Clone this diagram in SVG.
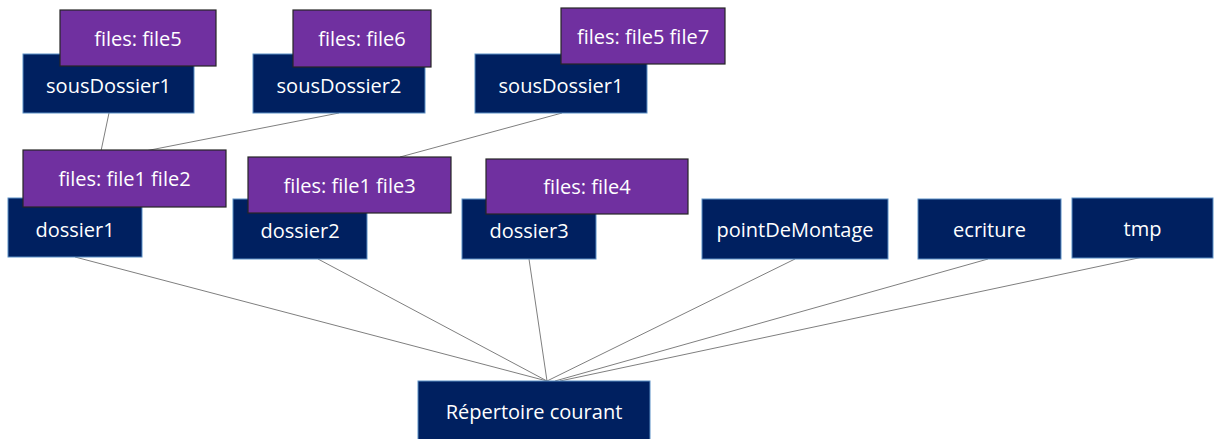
<svg xmlns="http://www.w3.org/2000/svg" width="1215" height="439" viewBox="0 0 1215 439">
<style>
.dir{fill:#002060;stroke:#5b8fc5;stroke-width:1}
.files{fill:#7030a0;stroke:#262626;stroke-width:1.2}
text{font-family:"Open Sans","Liberation Sans",sans-serif;font-size:20px;fill:#ffffff;text-anchor:middle}
.conn line{stroke:#7f7f7f;stroke-width:1}
</style>
<rect width="1215" height="439" fill="#ffffff"/>
<g id="connectors" class="conn">
<line x1="109" y1="113" x2="101" y2="151"/>
<line x1="339" y1="113" x2="140" y2="152"/>
<line x1="562" y1="113" x2="400" y2="157"/>
<line x1="75" y1="257" x2="547" y2="381"/>
<line x1="318" y1="259" x2="547" y2="381"/>
<line x1="529" y1="259" x2="547" y2="381"/>
<line x1="795" y1="259" x2="547" y2="381"/>
<line x1="988" y1="259" x2="555" y2="381"/>
<line x1="1143" y1="257" x2="560" y2="381"/>
</g>
<g id="sousDossier1a">
<rect class="dir" x="23" y="54" width="171" height="59"/>
<text x="108.5" y="93">sousDossier1</text>
</g>
<g id="files5">
<rect class="files" x="60" y="10" width="156" height="56"/>
<text x="138" y="46">files: file5</text>
</g>
<g id="sousDossier2">
<rect class="dir" x="253" y="54" width="172" height="59"/>
<text x="339" y="93">sousDossier2</text>
</g>
<g id="files6">
<rect class="files" x="293" y="10" width="138" height="57"/>
<text x="362" y="46">files: file6</text>
</g>
<g id="sousDossier1b">
<rect class="dir" x="475" y="54" width="172" height="59"/>
<text x="561" y="93">sousDossier1</text>
</g>
<g id="files57">
<rect class="files" x="561" y="8" width="164" height="56"/>
<text x="643" y="44">files: file5 file7</text>
</g>
<g id="dossier1">
<rect class="dir" x="8" y="198" width="134" height="59"/>
<text x="75" y="237">dossier1</text>
</g>
<g id="files12">
<rect class="files" x="23" y="150" width="203" height="57"/>
<text x="124.5" y="186">files: file1 file2</text>
</g>
<g id="dossier2">
<rect class="dir" x="233" y="199" width="134" height="60"/>
<text x="300" y="238">dossier2</text>
</g>
<g id="files13">
<rect class="files" x="248" y="157" width="203" height="56"/>
<text x="349.5" y="193">files: file1 file3</text>
</g>
<g id="dossier3">
<rect class="dir" x="462" y="199" width="134" height="60"/>
<text x="529" y="238">dossier3</text>
</g>
<g id="files4">
<rect class="files" x="486" y="159" width="202" height="55"/>
<text x="587" y="194">files: file4</text>
</g>
<g id="pointDeMontage">
<rect class="dir" x="702" y="199" width="186" height="60"/>
<text x="795" y="237">pointDeMontage</text>
</g>
<g id="ecriture">
<rect class="dir" x="918" y="199" width="143" height="60"/>
<text x="989.5" y="237">ecriture</text>
</g>
<g id="tmp">
<rect class="dir" x="1072" y="198" width="141" height="60"/>
<text x="1142.5" y="236">tmp</text>
</g>
<g id="repertoire">
<rect class="dir" x="418" y="381" width="232" height="60"/>
<text x="534" y="419">Répertoire courant</text>
</g>
</svg>
